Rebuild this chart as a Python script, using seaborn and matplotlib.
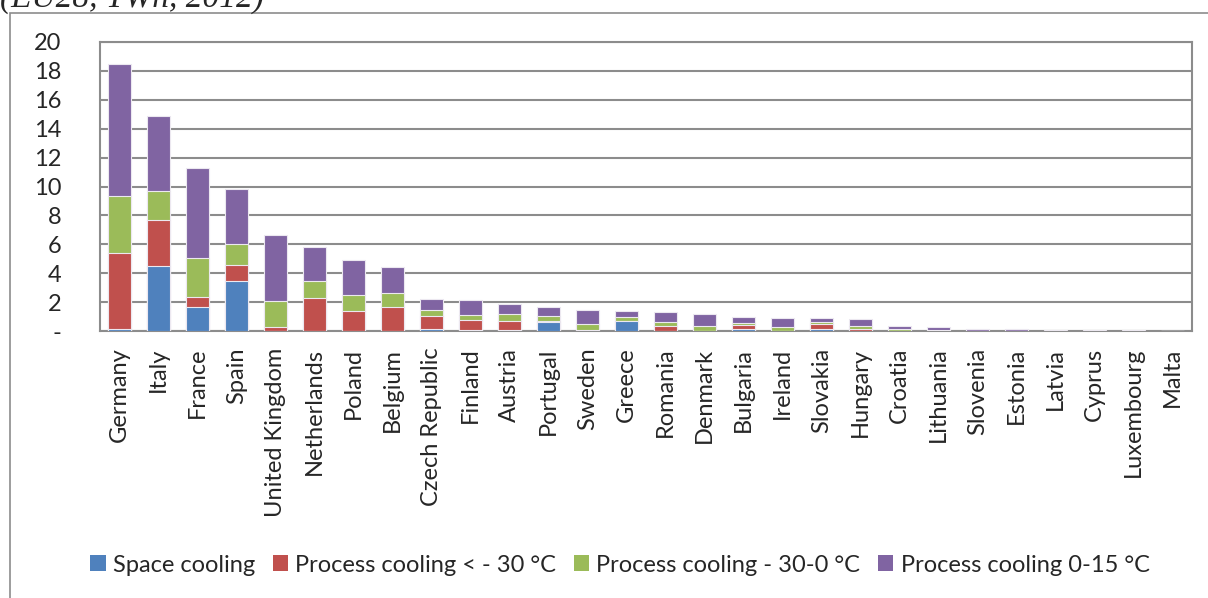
import numpy as np
import pandas as pd
import seaborn as sns
import matplotlib.pyplot as plt
from matplotlib.patches import Patch, Rectangle

countries = ['Germany', 'Italy', 'France', 'Spain', 'United Kingdom', 'Netherlands',
             'Poland', 'Belgium', 'Czech Republic', 'Finland', 'Austria', 'Portugal',
             'Sweden', 'Greece', 'Romania', 'Denmark', 'Bulgaria', 'Ireland', 'Slovakia',
             'Hungary', 'Croatia', 'Lithuania', 'Slovenia', 'Estonia', 'Latvia',
             'Cyprus', 'Luxembourg', 'Malta']

# TWh per segment
space = [0.14, 4.53, 1.66, 3.46, 0.02, 0.02, 0.02, 0.02, 0.12, 0.05, 0.07, 0.60,
         0.01, 0.67, 0.02, 0.01, 0.16, 0.01, 0.12, 0.02, 0.01, 0.0, 0.0, 0.0,
         0.0, 0.0, 0.0, 0.0]
proc_lt30 = [5.24, 3.18, 0.67, 1.11, 0.28, 2.29, 1.39, 1.67, 0.94, 0.74, 0.65, 0.09,
             0.06, 0.04, 0.33, 0.02, 0.26, 0.02, 0.39, 0.12, 0.02, 0.01, 0.0, 0.0,
             0.0, 0.0, 0.0, 0.0]
proc_30_0 = [3.95, 1.99, 2.70, 1.48, 1.76, 1.15, 1.08, 0.92, 0.37, 0.34, 0.43, 0.33,
             0.42, 0.24, 0.27, 0.29, 0.16, 0.25, 0.11, 0.18, 0.09, 0.06, 0.02, 0.01,
             0.01, 0.01, 0.01, 0.0]
proc_0_15 = [9.17, 5.17, 6.26, 3.79, 4.57, 2.36, 2.43, 1.85, 0.81, 1.04, 0.72, 0.62,
             0.96, 0.46, 0.72, 0.83, 0.39, 0.64, 0.26, 0.49, 0.20, 0.23, 0.14, 0.11,
             0.06, 0.06, 0.06, 0.0]

series = ['Space cooling', 'Process cooling < - 30 °C',
          'Process cooling - 30-0 °C', 'Process cooling 0-15 °C']
colors = ['#4F81BD', '#C0504D', '#9BBB59', '#8064A2']

df = pd.DataFrame({'country': countries, series[0]: space, series[1]: proc_lt30,
                   series[2]: proc_30_0, series[3]: proc_0_15})
cum = df[series].cumsum(axis=1)
cum['country'] = countries

sns.set_style('white')
plt.rcParams['font.family'] = ['Lato', 'DejaVu Sans']

fig = plt.figure(figsize=(12.08, 5.98), dpi=100)
ax = fig.add_axes([100 / 1208, 1 - 331 / 598, 1092 / 1208, 289 / 598])

# draw totals first, then smaller cumulative sums on top
for s, c in zip(series[::-1], colors[::-1]):
    sns.barplot(data=cum, x='country', y=s, color=c, width=0.58, ax=ax,
                edgecolor='#ece8f0', linewidth=0.8, saturation=1, zorder=3)

ax.set_ylim(0, 20)
ax.set_xlim(-0.5, len(countries) - 0.5)
ax.set_yticks(range(0, 21, 2))
ax.set_yticklabels(['-'] + [str(v) for v in range(2, 21, 2)])
ax.yaxis.grid(True, color='#8c8c8c', linewidth=1.5, zorder=0)
ax.set_axisbelow(True)
ax.set_xlabel('')
ax.set_ylabel('')
ax.tick_params(axis='y', labelsize=17, length=0, pad=28)
ax.tick_params(axis='x', labelsize=17, rotation=90, length=0, pad=12)
for side in ['left', 'top', 'right', 'bottom']:
    ax.spines[side].set_visible(True)
    ax.spines[side].set_color('#8c8c8c')
    ax.spines[side].set_linewidth(1.5)

handles = [Patch(facecolor=c, edgecolor='none') for c in colors]
fig.legend(handles, series, loc='center', bbox_to_anchor=(620 / 1208, 1 - 565 / 598),
           ncol=4, frameon=False, fontsize=17, handlelength=0.65, handleheight=0.65,
           handletextpad=0.3, columnspacing=0.75)

# outer chart frame and clipped caption
fig.patches.append(Rectangle((10 / 1208, -0.2), 1.2, 1.2 - 13 / 598,
                             transform=fig.transFigure, fill=False,
                             edgecolor='#8c8c8c', linewidth=1.2))
fig.text(0.0, 1 - 7 / 598, '(EU28, TWh, 2012)', family='Liberation Serif',
         style='italic', fontsize=24, va='baseline', ha='left')

fig.savefig('out.png', dpi=100)
